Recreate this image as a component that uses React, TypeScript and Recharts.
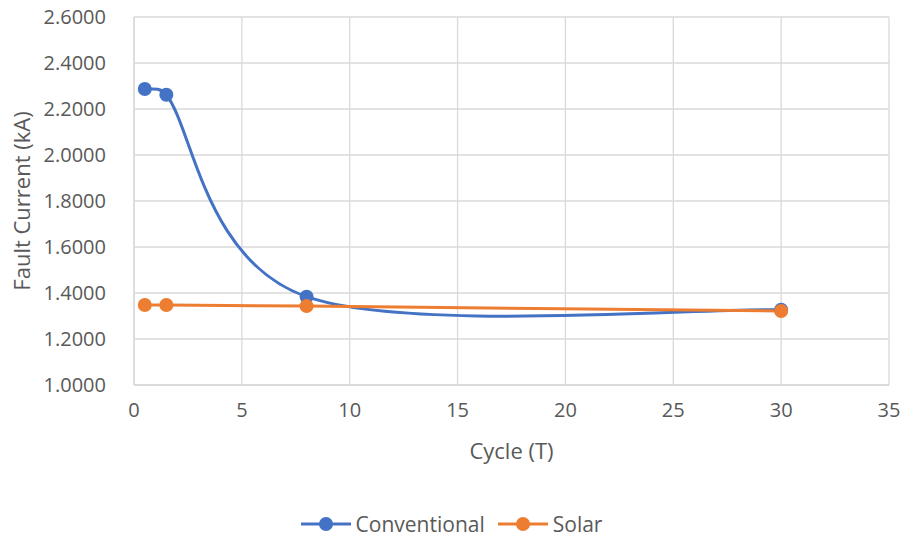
import { LineChart, Line, XAxis, YAxis, CartesianGrid, Legend } from 'recharts';

const cycles = [0.5, 1.5, 8, 30];
const conventional = [2.287, 2.262, 1.384, 1.327];
const solar = [1.348, 1.348, 1.343, 1.322];
const xTicks = [0, 5, 10, 15, 20, 25, 30, 35];
const yTicks = [1.0, 1.2, 1.4, 1.6, 1.8, 2.0, 2.2, 2.4, 2.6];

const data = cycles.map((c, i) => ({ cycle: c, conventional: conventional[i], solar: solar[i] }));

const BLUE = '#4472C4';
const ORANGE = '#ED7D31';
const TEXT = '#595959';
const GRID = '#d9d9d9';
const FONT = '"Open Sans", "Noto Sans", sans-serif';

// excel-ish smoothed line: catmull-rom bezier (1/6 tangents), capped on short segments
function smoothCurve(context: any) {
    let pts: [number, number][] = [];
    const dist = (a: [number, number], b: [number, number]) => Math.hypot(b[0] - a[0], b[1] - a[1]);
    const ctrl = (from: [number, number], dx: number, dy: number, maxLen: number, sign: number): [number, number] => {
        let tx = dx / 6;
        let ty = dy / 6;
        const len = Math.hypot(tx, ty);
        if (len > maxLen && len > 0) {
            tx = (tx * maxLen) / len;
            ty = (ty * maxLen) / len;
        }
        return [from[0] + sign * tx, from[1] + sign * ty];
    };
    return {
        areaStart() {},
        areaEnd() {},
        lineStart() {
            pts = [];
        },
        point(x: number, y: number) {
            pts.push([+x, +y]);
        },
        lineEnd() {
            if (!pts.length) return;
            context.moveTo(pts[0][0], pts[0][1]);
            for (let i = 0; i < pts.length - 1; i++) {
                const p0 = pts[i - 1] ?? pts[i];
                const p1 = pts[i];
                const p2 = pts[i + 1];
                const p3 = pts[i + 2] ?? p2;
                const cap = dist(p1, p2) * 0.5;
                const c1 = ctrl(p1, p2[0] - p0[0], p2[1] - p0[1], cap, 1);
                const c2 = ctrl(p2, p3[0] - p1[0], p3[1] - p1[1], cap, -1);
                context.bezierCurveTo(c1[0], c1[1], c2[0], c2[1], p2[0], p2[1]);
            }
        },
    };
}

const renderLegend = () => (
    <div style={{ display: 'flex', justifyContent: 'center', gap: 13, fontFamily: FONT, fontSize: 21, color: TEXT, lineHeight: '28px' }}>
        {[
            { name: 'Conventional', color: BLUE },
            { name: 'Solar', color: ORANGE },
        ].map((s) => (
            <div key={s.name} style={{ display: 'flex', alignItems: 'center' }}>
                <svg width={50} height={16}>
                    <line x1={0} y1={8} x2={50} y2={8} stroke={s.color} strokeWidth={3} />
                    <circle cx={25} cy={8} r={7} fill={s.color} />
                </svg>
                <span style={{ marginLeft: 5 }}>{s.name}</span>
            </div>
        ))}
    </div>
);

export default function App() {
    return (
        <div style={{ position: 'absolute', left: 0, top: 0, width: 903, height: 537, background: '#fff' }}>
            <LineChart width={903} height={537} data={data} margin={{ top: 17, right: 14, left: 0, bottom: 0 }}>
                <CartesianGrid stroke={GRID} strokeWidth={1.3} />
                <XAxis
                    dataKey="cycle"
                    type="number"
                    domain={[0, 35]}
                    ticks={xTicks}
                    height={152}
                    axisLine={{ stroke: GRID, strokeWidth: 1.3 }}
                    tickLine={false}
                    tick={{ fill: TEXT, fontSize: 20, fontFamily: FONT }}
                    tickMargin={12}
                    label={{ value: 'Cycle (T)', position: 'insideTop', offset: 58, fill: TEXT, fontSize: 22, fontFamily: FONT }}
                />
                <YAxis
                    type="number"
                    domain={[1, 2.6]}
                    ticks={yTicks}
                    width={134}
                    axisLine={{ stroke: GRID, strokeWidth: 1.3 }}
                    tickLine={false}
                    tickFormatter={(v: number) => v.toFixed(4)}
                    tick={{ fill: TEXT, fontSize: 20, fontFamily: FONT }}
                    tickMargin={22}
                    label={{ value: 'Fault Current (kA)', angle: -90, position: 'insideLeft', offset: 22, fill: TEXT, fontSize: 22, fontFamily: FONT, style: { textAnchor: 'middle' } }}
                />
                <Legend verticalAlign="middle" align="center" content={renderLegend} wrapperStyle={{ top: 510, left: 0, width: 903 }} />
                <Line
                    type={smoothCurve as any}
                    dataKey="conventional"
                    name="Conventional"
                    stroke={BLUE}
                    strokeWidth={3}
                    dot={{ r: 7, fill: BLUE, stroke: BLUE, strokeWidth: 0 }}
                    isAnimationActive={false}
                />
                <Line
                    type={smoothCurve as any}
                    dataKey="solar"
                    name="Solar"
                    stroke={ORANGE}
                    strokeWidth={3}
                    dot={{ r: 7, fill: ORANGE, stroke: ORANGE, strokeWidth: 0 }}
                    isAnimationActive={false}
                />
            </LineChart>
        </div>
    );
}
